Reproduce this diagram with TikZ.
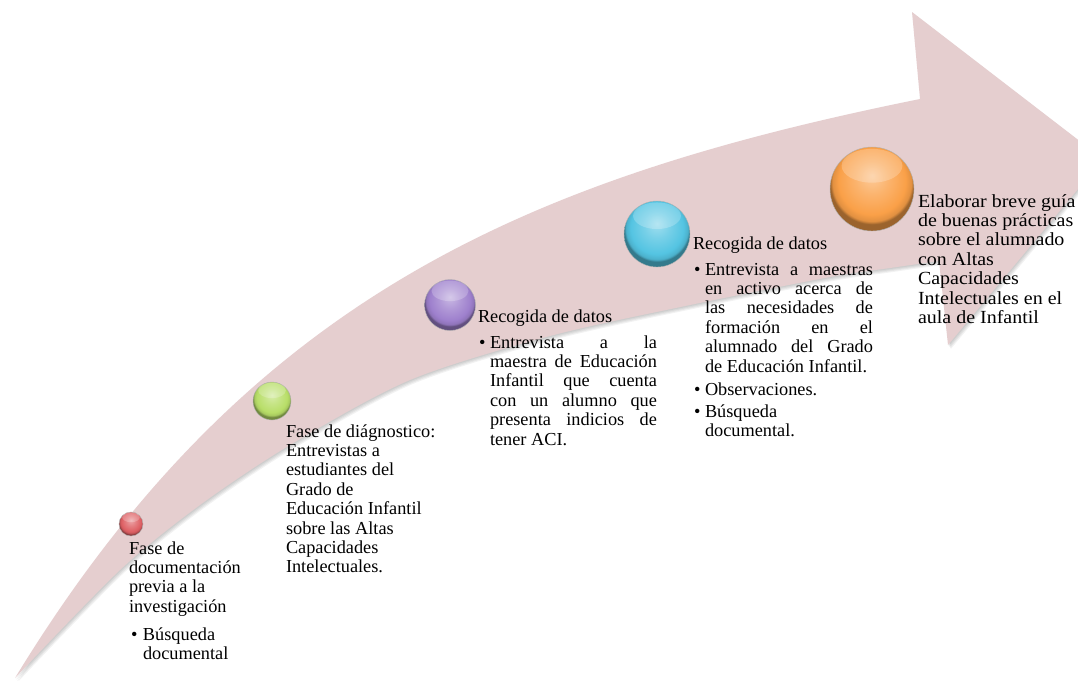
\documentclass[tikz,border=0pt]{standalone}
\usepackage{fontspec}
\setmainfont{Liberation Serif}
\newfontfamily\orfont[FakeStretch=1.08]{Liberation Serif}
\usetikzlibrary{calc}
\definecolor{arrowpink}{RGB}{229,206,207}
\definecolor{redball}{RGB}{222,96,100}
\definecolor{greenball}{RGB}{184,222,104}
\definecolor{purpleball}{RGB}{158,128,205}
\definecolor{cyanball}{RGB}{84,196,226}
\definecolor{orangeball}{RGB}{250,160,72}
\colorlet{ballbase}{red}
\pgfdeclareradialshading[ballbase]{glossball}{\pgfpoint{0bp}{8bp}}{%
 color(0bp)=(ballbase!55!white); color(10bp)=(ballbase!80!white); color(20bp)=(ballbase);
 color(23.5bp)=(ballbase!90!black); color(25bp)=(ballbase!62!black); color(50bp)=(ballbase!62!black)}
\newcommand\mybullet[1]{\makebox[#1][l]{•}}
\def\arrowpath{(15,678) .. controls (248,296) and (529,178) .. (920,99)
  -- (912,12) -- (1103,159) -- (948,345) -- (939,261)
  -- plot[smooth, tension=0.5] coordinates {(939,261) (890,268) (830,277) (690,305) (550,336) (410,380) (290,445) (200,505) (120,570) (15,678)} -- cycle}
\tikzset{
  gloss/.style={circle, inner sep=0pt, minimum size=#1, shading=glossball, draw=black!30, line width=0.4pt},
  bcol/.style={/utils/exec={\colorlet{ballbase}{#1}}},
  lbl/.style={anchor=base west, inner sep=0pt, outer sep=0pt, font=\fontsize{18.3}{19.4}\selectfont},
}
\begin{document}
\begin{tikzpicture}[x=1pt, y=-1pt]
\useasboundingbox (0,0) rectangle (1078,680);
\fill[white] (0,0) rectangle (1078,680);
\clip (0,0) rectangle (1078,680);
% shadow
\foreach \d in {1,2,3,4} {
  \fill[black, opacity=0.05, shift={(0.7*\d,\d)}] \arrowpath;
}
% arrow
\fill[arrowpink] \arrowpath;
% balls
\node[gloss=24pt, bcol=redball] (b1) at (131,524) {};
\node[gloss=38pt, bcol=greenball] (b2) at (272,401) {};
\node[gloss=51pt, bcol=purpleball] (b3) at (450,305) {};
\node[gloss=66pt, bcol=cyanball] (b4) at (657,234) {};
\node[gloss=84pt, bcol=orangeball] (b5) at (872,189) {};
\foreach \b in {b1,b2,b3,b4,b5} {
  \path let \p1=(\b.north), \p2=(\b.south) in
    [fill=white, opacity=0.22] ($(\b.center)!0.55!(\b.north)$) ellipse [x radius={0.36*(\y1-\y2)}, y radius={0.2*(\y1-\y2)}];
}
% labels
\node[lbl] (t1) at (129,554) {\parbox[t]{150pt}{\raggedright
  Fase de\\ documentación\\ previa a la\\ investigación\par\vspace{8.5pt}
  \hangindent=14pt\hangafter=1\noindent\hspace{2pt}\mybullet{12pt}Búsqueda\newline documental\par}};
\node[lbl] (t2) at (286,437) {\parbox[t]{175pt}{\raggedright
  Fase de diágnostico:\\ Entrevistas a\\ estudiantes del\\ Grado de\\ Educación Infantil\\ sobre las Altas\\ Capacidades\\ Intelectuales.}};
\node[lbl] (t3) at (478,322) {\parbox[t]{179pt}{\tolerance=10000 \hyphenpenalty=10000
  \noindent Recogida de datos\par\vspace{6.6pt}
  \hangindent=12pt\hangafter=1\noindent\hspace{1pt}\mybullet{11pt}Entrevista a la\linebreak
  maestra de Educación\linebreak Infantil que cuenta\linebreak con un alumno que\linebreak
  presenta indicios de\linebreak tener ACI.\par}};
\node[lbl] (t4) at (693,249) {\parbox[t]{180pt}{\tolerance=10000 \hyphenpenalty=10000
  \noindent Recogida de datos\par\vspace{6.6pt}
  \hangindent=12pt\hangafter=1\noindent\hspace{1pt}\mybullet{11pt}Entrevista a maestras\linebreak
  en activo acerca de\linebreak las necesidades de\linebreak formación en el\linebreak
  alumnado del Grado\linebreak de Educación Infantil.\par\vspace{3.6pt}
  \hangindent=12pt\hangafter=1\noindent\hspace{1pt}\mybullet{11pt}Observaciones.\par\vspace{2.6pt}
  \hangindent=12pt\hangafter=1\noindent\hspace{1pt}\mybullet{11pt}Búsqueda\newline documental.\par}};
\node[lbl, font=\orfont\fontsize{18.5}{19.4}\selectfont] (t5) at (918,207) {\parbox[t]{170pt}{\raggedright
  Elaborar breve guía\\ de buenas prácticas\\ sobre el alumnado\\ con Altas\\ Capacidades\\ Intelectuales en el\\ aula de Infantil}};
\end{tikzpicture}
\end{document}
